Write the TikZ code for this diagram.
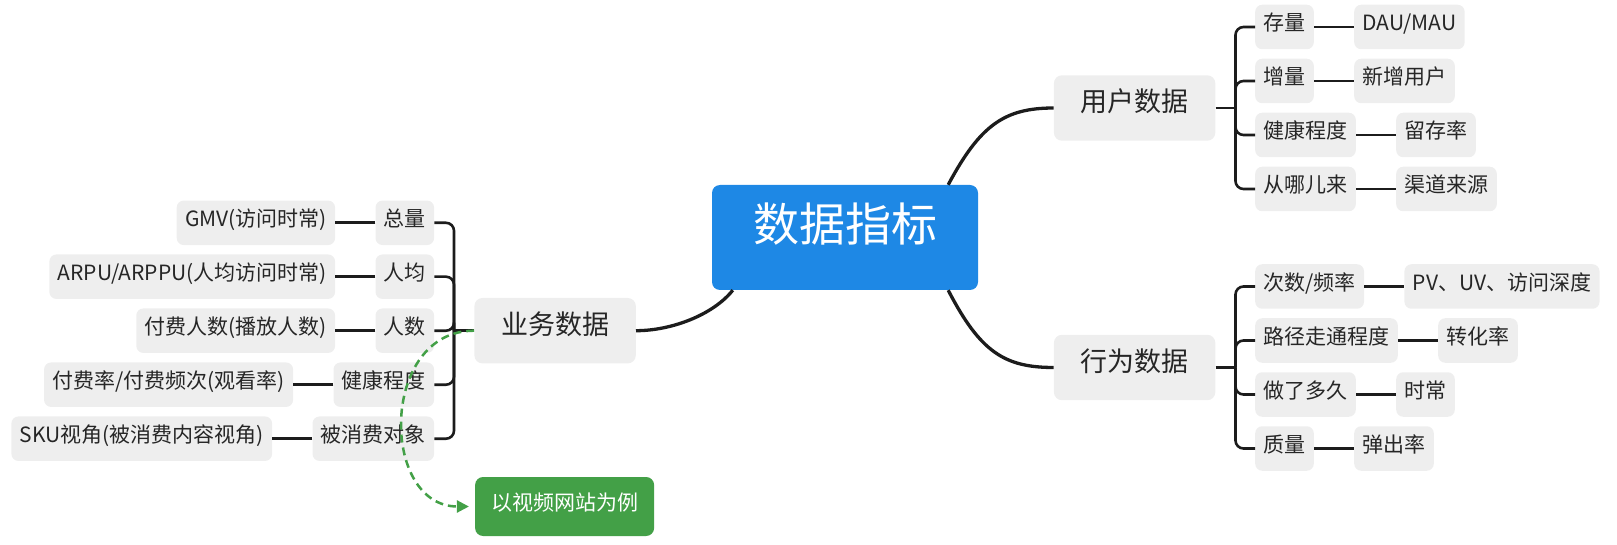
\documentclass[tikz,border=0pt]{standalone}
\usepackage{fontspec}
\setmainfont{Noto Sans CJK SC}
\usetikzlibrary{arrows.meta,calc}
\definecolor{txtcol}{HTML}{262626}
\definecolor{linecol}{HTML}{1C1C1C}
\definecolor{boxgrey}{HTML}{EEEEEE}
\definecolor{rootblue}{HTML}{1E88E5}
\definecolor{egreen}{HTML}{43A047}
\begin{document}
\begin{tikzpicture}[x=1pt,y=-1pt,
  rootbox/.style={fill=rootblue, text=white, rounded corners=8pt, minimum width=266pt, minimum height=105pt, inner sep=0pt, text height=0.76em, text depth=0pt, font=\fontsize{46}{52}\selectfont},
  topicbox/.style={fill=boxgrey, text=txtcol, rounded corners=8pt, minimum height=65.4pt, inner xsep=26.7pt, inner ysep=0pt, text height=0.76em, text depth=0pt, font=\fontsize{27}{32}\selectfont},
  subbox/.style={fill=boxgrey, text=txtcol, rounded corners=7pt, minimum height=44.5pt, inner xsep=8.3pt, inner ysep=0pt, text height=0.76em, text depth=0pt, font=\fontsize{21}{25}\selectfont},
  notebox/.style={fill=egreen, text=white, rounded corners=8pt, minimum width=179pt, minimum height=59pt, inner xsep=16pt, inner ysep=0pt, text height=0.76em, text depth=0pt, font=\fontsize{21}{25}\selectfont},
  maincurve/.style={draw=linecol, line width=3.3pt},
  branch/.style={draw=linecol, line width=2.6pt, rounded corners=8pt},
  leafline/.style={draw=linecol, line width=2.6pt},
  example/.style={draw=egreen, line width=2.5pt, dash pattern=on 8pt off 5pt, -{Triangle[length=12pt,width=12pt]}, shorten >=6pt}
]
\useasboundingbox (0,0) rectangle (1617,545);

% root and main topics
\node[rootbox] (root) at (845,237.5) {数据指标};
\node[topicbox] (yh) at (1134.6,108) {用户数据};
\node[topicbox] (xw) at (1134.6,367.5) {行为数据};
\node[topicbox] (yw) at (555.1,330.7) {业务数据};
\node[notebox] (eg) at (564.6,506.5) {以视频网站为例};

% user data
\node[subbox, anchor=west] (u1) at (1255,27) {存量};
\node[subbox, anchor=west] (u2) at (1255,81) {增量};
\node[subbox, anchor=west] (u3) at (1255,135) {健康程度};
\node[subbox, anchor=west] (u4) at (1255,189) {从哪儿来};
\node[subbox, anchor=west] (u1l) at ([xshift=40pt]u1.east) {DAU/MAU};
\node[subbox, anchor=west] (u2l) at ([xshift=40pt]u2.east) {新增用户};
\node[subbox, anchor=west] (u3l) at ([xshift=40pt]u3.east) {留存率};
\node[subbox, anchor=west] (u4l) at ([xshift=40pt]u4.east) {渠道来源};

% behaviour data
\node[subbox, anchor=west] (x1) at (1255,286.5) {次数/频率};
\node[subbox, anchor=west] (x2) at (1255,340.5) {路径走通程度};
\node[subbox, anchor=west] (x3) at (1255,394.5) {做了多久};
\node[subbox, anchor=west] (x4) at (1255,448.5) {质量};
\node[subbox, anchor=west] (x1l) at ([xshift=40pt]x1.east) {PV、UV、访问深度};
\node[subbox, anchor=west] (x2l) at ([xshift=40pt]x2.east) {转化率};
\node[subbox, anchor=west] (x3l) at ([xshift=40pt]x3.east) {时常};
\node[subbox, anchor=west] (x4l) at ([xshift=40pt]x4.east) {弹出率};

% business data
\node[subbox, anchor=east] (y1) at (434.3,222.8) {总量};
\node[subbox, anchor=east] (y2) at (434.3,276.7) {人均};
\node[subbox, anchor=east] (y3) at (434.3,330.7) {人数};
\node[subbox, anchor=east] (y4) at (434.3,384.7) {健康程度};
\node[subbox, anchor=east] (y5) at (434.3,438.7) {被消费对象};
\node[subbox, anchor=east] (y1l) at ([xshift=-40pt]y1.west) {GMV(访问时常)};
\node[subbox, anchor=east] (y2l) at ([xshift=-40pt]y2.west) {ARPU/ARPPU(人均访问时常)};
\node[subbox, anchor=east] (y3l) at ([xshift=-40pt]y3.west) {付费人数(播放人数)};
\node[subbox, anchor=east] (y4l) at ([xshift=-40pt]y4.west) {付费率/付费频次(观看率)};
\node[subbox, anchor=east] (y5l) at ([xshift=-40pt]y5.west) {SKU视角(被消费内容视角)};

% spine junctions
\coordinate (su) at ([xshift=20pt]yh.east);
\coordinate (sx) at ([xshift=20pt]xw.east);
\coordinate (sy) at ([xshift=-20.2pt]yw.west);

% main curves
\draw[maincurve] ([xshift=-30pt]root.north east) .. controls +(32,-60) and +(-49,0) .. (yh.west);
\draw[maincurve] ([xshift=-30pt]root.south east) .. controls +(32,62) and +(-49,0) .. (xw.west);
\draw[maincurve] ([xshift=21pt]root.south west) .. controls +(-20,25) and +(35,0) .. (yw.east);

% branches
\draw[branch] (yh.east) -- (su);
\foreach \c in {u1,u2,u3,u4} \draw[branch] (su) |- (\c.west);
\draw[branch] (xw.east) -- (sx);
\foreach \c in {x1,x2,x3,x4} \draw[branch] (sx) |- (\c.west);
\draw[branch] (yw.west) -- (sy);
\foreach \c in {y1,y2,y3,y4,y5} \draw[branch] (sy) |- (\c.east);

% leaf lines
\foreach \c in {u1,u2,u3,u4,x1,x2,x3,x4} \draw[leafline] (\c.east) -- (\c l.west);
\foreach \c in {y1,y2,y3,y4,y5} \draw[leafline] (\c.west) -- (\c l.east);

% example arrow
\draw[example] (yw.west) .. controls +(-95,0) and +(-95,0) .. (eg.west);
\end{tikzpicture}
\end{document}
